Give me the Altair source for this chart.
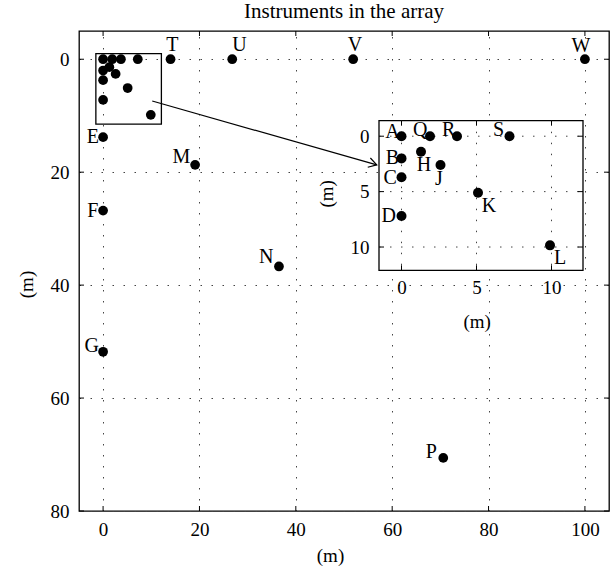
import math
import altair as alt
import pandas as pd

# ---------------- data ----------------
names = ["A", "B", "C", "D", "E", "F", "G", "H", "J", "K", "L",
         "M", "N", "P", "Q", "R", "S", "T", "U", "V", "W"]
pos_x = [0, 0, 0, 0, 0, 0, 0, 1.3, 2.6, 5.1, 9.9,
         19.1, 36.5, 70.6, 1.9, 3.7, 7.2, 14.0, 26.8, 51.9, 100]
pos_y = [0, 2.0, 3.7, 7.2, 13.8, 26.8, 51.8, 1.4, 2.6, 5.1, 9.85,
         18.7, 36.7, 70.6, 0, 0, 0, 0, 0, 0, 0]

main_labeled = ["E", "F", "G", "M", "N", "P", "T", "U", "V", "W"]
inset_names = ["A", "B", "C", "D", "H", "J", "K", "L", "Q", "R", "S"]

main_x_ticks = [0, 20, 40, 60, 80, 100]
main_y_ticks = [0, 20, 40, 60, 80]
inset_ticks = [0, 5, 10]

zoom_box_x = [-1.5, 12.1]
zoom_box_y = [-1.0, 11.5]
arrow_x = [10.2, 56.8]
arrow_y = [7.4, 18.7]

title_text = "Instruments in the array"
axis_title = "(m)"

# ---------------- style / layout ----------------
W, H = 530, 480
MAIN_XD = [-5, 105]
MAIN_YD = [-5, 80]
INSET_XD = [-1.5, 12.1]
INSET_YD = [-1.4, 12.1]
INSET_XR = [300, 504]
INSET_YR = [89.7, 239.3]
FONT = "Liberation Serif"
TICK = 5
DASH = [1.5, 9.5]
GRID_COLOR = "#444444"
FRAME_W = 1.3

# label offsets (px): (dx, dy)
label_offsets = {
    "T": (1.7, -14.5), "U": (7.3, -14.6), "V": (1.7, -14.3), "W": (-4, -13.3),
    "E": (-10.3, 0), "M": (-13.7, -8), "F": (-10.3, 0.3), "N": (-12.7, -9),
    "G": (-11.3, -5.7), "P": (-12, -6),
    "A": (-9, -4.3), "Q": (-9.7, -6.3), "R": (-8.3, -6.7), "S": (-11, -6.7),
    "B": (-9, 0), "H": (3, 13.3), "J": (-1.7, 13.5), "C": (-11.3, 1),
    "K": (11, 13), "D": (-12.7, 0), "L": (10, 12.7),
}

df = pd.DataFrame({"name": names, "x": pos_x, "y": pos_y})
df_inset = df[df["name"].isin(inset_names)].reset_index(drop=True)

mx_scale = alt.Scale(domain=MAIN_XD, nice=False, zero=False)
my_scale = alt.Scale(domain=MAIN_YD, nice=False, zero=False, reverse=True)
mx_axis = alt.Axis(orient="bottom", values=main_x_ticks, title=axis_title,
                   grid=True, gridDash=DASH, gridColor=GRID_COLOR, gridWidth=1,
                   domain=False, ticks=False, labelPadding=9,
                   titleX=251, titleY=44, titleBaseline="middle")
my_axis = alt.Axis(orient="left", values=main_y_ticks, title=axis_title,
                   grid=True, gridDash=DASH, gridColor=GRID_COLOR, gridWidth=1,
                   domain=False, ticks=False, labelPadding=10,
                   titleX=-53, titleY=253, titleBaseline="middle")

ix_scale = alt.Scale(domain=INSET_XD, range=INSET_XR, nice=False, zero=False)
iy_scale = alt.Scale(domain=INSET_YD, range=INSET_YR, nice=False, zero=False)
ix_axis = alt.Axis(orient="bottom", offset=INSET_YR[1] - H, values=inset_ticks,
                   title=axis_title, grid=False, domain=False, ticks=False,
                   labelPadding=8, titleX=397.7, titleY=51.4, titleBaseline="middle")
iy_axis = alt.Axis(orient="left", offset=-INSET_XR[0], values=inset_ticks,
                   title=axis_title, grid=False, domain=False, ticks=False,
                   labelPadding=10, titleX=-52.3, titleY=162.3, titleBaseline="middle")


def MX(f):
    return alt.X(f, type="quantitative", scale=mx_scale, axis=mx_axis)


def MY(f):
    return alt.Y(f, type="quantitative", scale=my_scale, axis=my_axis)


def IX(f):
    return alt.X(f, type="quantitative", scale=ix_scale, axis=ix_axis)


def IY(f):
    return alt.Y(f, type="quantitative", scale=iy_scale, axis=iy_axis)


def labels(data, which, xenc, yenc):
    out = []
    for n in which:
        dx, dy = label_offsets[n]
        out.append(
            alt.Chart(data).transform_filter(alt.datum.name == n)
            .mark_text(font=FONT, fontSize=20, color="black", align="center",
                       baseline="middle", dx=dx, dy=dy)
            .encode(x=xenc("x"), y=yenc("y"), text="name:N")
        )
    return out


# ---------------- main panel ----------------
xt = pd.DataFrame({"t": main_x_ticks})
yt = pd.DataFrame({"t": main_y_ticks})

main_ticks = [
    alt.Chart(xt).mark_rule(color="black", strokeWidth=1).encode(
        x=MX("t"), y=alt.value(H), y2=alt.value(H - TICK)),
    alt.Chart(xt).mark_rule(color="black", strokeWidth=1).encode(
        x=MX("t"), y=alt.value(0), y2=alt.value(TICK)),
    alt.Chart(yt).mark_rule(color="black", strokeWidth=1).encode(
        y=MY("t"), x=alt.value(0), x2=alt.value(TICK)),
    alt.Chart(yt).mark_rule(color="black", strokeWidth=1).encode(
        y=MY("t"), x=alt.value(W), x2=alt.value(W - TICK)),
]

main_points = alt.Chart(df).mark_circle(size=95, color="black", opacity=1).encode(
    x=MX("x"), y=MY("y"))

zb = pd.DataFrame({"x0": [zoom_box_x[0]], "x1": [zoom_box_x[1]],
                   "y0": [zoom_box_y[0]], "y1": [zoom_box_y[1]]})
zoom_rect = alt.Chart(zb).mark_rect(fill="transparent", stroke="black",
                                    strokeWidth=FRAME_W).encode(
    x=MX("x0"), x2="x1", y=MY("y0"), y2="y1")

arr = pd.DataFrame({"x": arrow_x, "y": arrow_y})
arrow_line = alt.Chart(arr).mark_line(color="black", strokeWidth=1.2).encode(
    x=MX("x"), y=MY("y"))

px_per_x = W / (MAIN_XD[1] - MAIN_XD[0])
px_per_y = H / (MAIN_YD[1] - MAIN_YD[0])
ang = math.degrees(math.atan2((arrow_y[1] - arrow_y[0]) * px_per_y,
                              (arrow_x[1] - arrow_x[0]) * px_per_x))
head = alt.Chart(arr.iloc[[1]]).mark_point(
    shape="M-1,-0.6L0,0L-1,0.6", filled=False, color="black", strokeWidth=1.2,
    size=256, angle=ang, opacity=1).encode(x=MX("x"), y=MY("y"))

main_layer = alt.layer(
    *main_ticks, main_points, zoom_rect, arrow_line, head,
    *labels(df, main_labeled, MX, MY))

# ---------------- inset panel ----------------
ib = pd.DataFrame({"x0": [INSET_XD[0]], "x1": [INSET_XD[1]],
                   "y0": [INSET_YD[0]], "y1": [INSET_YD[1]]})
inset_bg = alt.Chart(ib).mark_rect(fill="white", stroke="black",
                                   strokeWidth=FRAME_W).encode(
    x=IX("x0"), x2="x1", y=IY("y0"), y2="y1")

it = pd.DataFrame({"t": inset_ticks})
inset_grid = [
    alt.Chart(it).mark_rule(color=GRID_COLOR, strokeWidth=1, strokeDash=DASH).encode(
        x=IX("t"), y=alt.value(INSET_YR[0]), y2=alt.value(INSET_YR[1])),
    alt.Chart(it).mark_rule(color=GRID_COLOR, strokeWidth=1, strokeDash=DASH).encode(
        y=IY("t"), x=alt.value(INSET_XR[0]), x2=alt.value(INSET_XR[1])),
]
inset_ticks_marks = [
    alt.Chart(it).mark_rule(color="black", strokeWidth=1).encode(
        x=IX("t"), y=alt.value(INSET_YR[1]), y2=alt.value(INSET_YR[1] - TICK)),
    alt.Chart(it).mark_rule(color="black", strokeWidth=1).encode(
        x=IX("t"), y=alt.value(INSET_YR[0]), y2=alt.value(INSET_YR[0] + TICK)),
    alt.Chart(it).mark_rule(color="black", strokeWidth=1).encode(
        y=IY("t"), x=alt.value(INSET_XR[0]), x2=alt.value(INSET_XR[0] + TICK)),
    alt.Chart(it).mark_rule(color="black", strokeWidth=1).encode(
        y=IY("t"), x=alt.value(INSET_XR[1]), x2=alt.value(INSET_XR[1] - TICK)),
]
inset_points = alt.Chart(df_inset).mark_circle(size=100, color="black", opacity=1).encode(
    x=IX("x"), y=IY("y"))

inset_layer = alt.layer(
    inset_bg, *inset_grid, *inset_ticks_marks, inset_points,
    *labels(df_inset, inset_names, IX, IY))

chart = (
    alt.layer(main_layer, inset_layer)
    .resolve_scale(x="independent", y="independent")
    .properties(
        width=W, height=H,
        padding={"left": 79, "top": 31, "right": 1, "bottom": 62},
        autosize=alt.AutoSizeParams(type="none"),
        title=alt.TitleParams(title_text, font=FONT, fontSize=21, fontWeight="normal",
                              color="black", anchor="middle", frame="group",
                              offset=-8, baseline="alphabetic"),
    )
    .configure_view(stroke="black", strokeWidth=FRAME_W)
    .configure_axis(labelFont=FONT, titleFont=FONT, labelFontSize=19, titleFontSize=19,
                    labelColor="black", titleColor="black", titleFontWeight="normal")
)

chart.save("out.html", embed_options={"renderer": "svg", "actions": False})
